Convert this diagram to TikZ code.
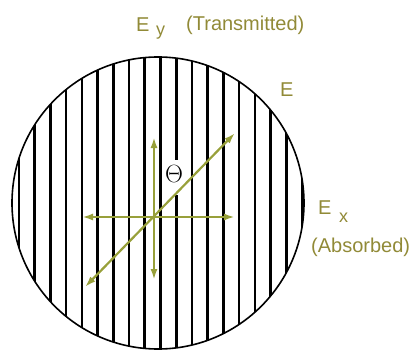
\documentclass[tikz,border=0pt]{standalone}
\usepackage{fontspec}
\setmainfont{Liberation Sans}
\usetikzlibrary{arrows.meta}
\definecolor{labelolive}{RGB}{145,138,55}
\definecolor{vecgreen}{RGB}{152,160,58}

\begin{document}
\begin{tikzpicture}[x=1pt,y=-1pt]
\tikzstyle{every node}+=[inner sep=0pt]
\tikzset{vec/.style={vecgreen, line width=2.2pt, {Latex[length=11pt,width=7pt]}-{Latex[length=11pt,width=7pt]}},
  lbl/.style={labelolive, anchor=base west, font=\fontsize{20}{22}\selectfont},
  sublbl/.style={labelolive, anchor=base west, font=\fontsize{18}{20}\selectfont}}
\useasboundingbox (0,0) rectangle (417,350);
\coordinate (C) at (158,203);
% polarizer grid
\begin{scope}
\clip (C) circle (146pt);
\foreach \k in {0,...,18}
  \draw [black, line width=2.6pt] (19+15.72*\k,50) -- (19+15.72*\k,360);
\end{scope}
\draw [black, line width=1.6pt] (C) circle (146pt);
\fill [white] (169,160) rectangle (178,195);
\node [font=\fontsize{24}{26}\selectfont] (theta) at (174,174) {$\Theta$};
% field vectors
\coordinate (O) at (154,217);
\coordinate (eyt) at (154,137);
\coordinate (eyb) at (154,280);
\coordinate (exl) at (82,217);
\coordinate (exr) at (235,217);
\coordinate (el) at (85,287);
\coordinate (er) at (235,133);
\draw [vec] (exl) -- (exr);
\draw [vec] (eyb) -- (eyt);
\draw [vec] (el) -- (er);
% labels
\node [lbl] (ey) at (136,32) {E};
\node [sublbl] (eysub) at (156,36) {y};
\node [lbl] (trans) at (186,31) {(Transmitted)};
\node [lbl] (e) at (280,97) {E};
\node [lbl] (ex) at (318,214) {E};
\node [sublbl] (exsub) at (339,222) {x};
\node [lbl] (abs) at (311,252) {(Absorbed)};
\end{tikzpicture}
\end{document}
